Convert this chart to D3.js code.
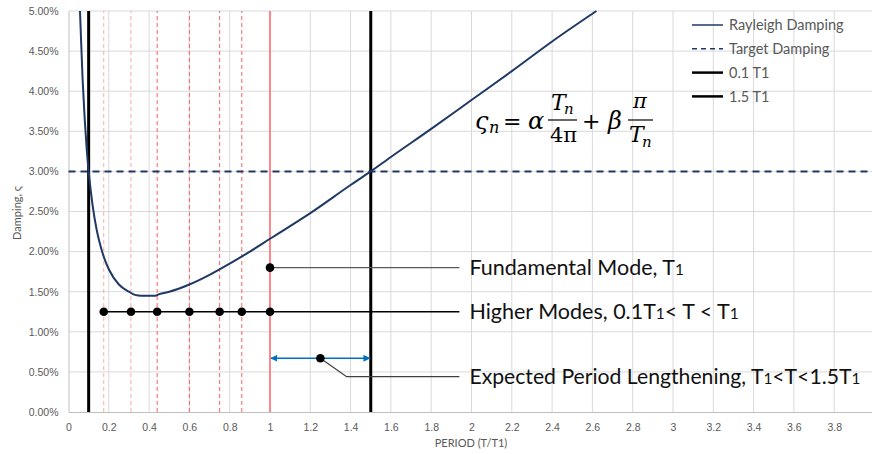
<!DOCTYPE html>
<html>
<head>
<meta charset="utf-8">
<script src="https://cdn.jsdelivr.net/npm/d3@7"></script>
<style>
  body { margin: 0; background: #fff; }
  svg { display: block; font-family: Lato, "Open Sans", sans-serif; }
</style>
</head>
<body>
<div id="chart"></div>
<script>
// Rayleigh damping curve (period T/T1, damping %)
var curvePeriod = [0.057, 0.06, 0.07, 0.08, 0.09, 0.1, 0.12, 0.14, 0.16, 0.18, 0.2, 0.25, 0.3, 0.33, 0.36, 0.4, 0.43, 0.45, 0.5, 0.6, 0.7, 0.8, 0.9, 1.0, 1.2, 1.4, 1.5, 1.6, 1.8, 2.0, 2.2, 2.4, 2.62];
var curveDamping = [5.0, 4.80, 4.15, 3.67, 3.29, 3.0, 2.57, 2.27, 2.06, 1.90, 1.78, 1.59, 1.50, 1.46, 1.45, 1.45, 1.45, 1.47, 1.50, 1.59, 1.71, 1.85, 2.00, 2.16, 2.48, 2.83, 3.0, 3.18, 3.53, 3.89, 4.25, 4.62, 5.0];

var targetDamping = 3.0;
var boundaryPeriods = [0.1, 1.5];           // 0.1 T1 and 1.5 T1
var modePeriods = [0.175, 0.31, 0.44, 0.6, 0.75, 0.86, 1.0];
var modeLineStyle = ["light", "light", "dash", "dash", "dash", "dash", "solid"];
var higherModeDamping = 1.25;
var fundamental = {period: 1.0, damping: 1.8};
var lengthening = {from: 1.0, to: 1.5, damping: 0.67, dot: 1.25};
var leaderBend = {period: 1.38, damping: 0.44};
var labelPeriod = 1.94;

var xTicks = [0, 0.2, 0.4, 0.6, 0.8, 1, 1.2, 1.4, 1.6, 1.8, 2, 2.2, 2.4, 2.6, 2.8, 3, 3.2, 3.4, 3.6, 3.8, 4];
var xTickLabels = ["0", "0.2", "0.4", "0.6", "0.8", "1", "1.2", "1.4", "1.6", "1.8", "2", "2.2", "2.4", "2.6", "2.8", "3", "3.2", "3.4", "3.6", "3.8", ""];
var yTicks = [0, 0.5, 1, 1.5, 2, 2.5, 3, 3.5, 4, 4.5, 5];

var legendLabels = ["Rayleigh Damping", "Target Damping", "0.1 T1", "1.5 T1"];

var W = 872, H = 454;
var navy = "#1f3864";

var svg = d3.select("#chart").append("svg")
  .attr("width", W).attr("height", H);

var x = d3.scaleLinear().domain([0, 4]).range([68.5, 874.5]);
var y = d3.scaleLinear().domain([0, 5]).range([412, 11]);

// grid
svg.append("g").selectAll("line").data(yTicks.slice(1)).enter().append("line")
  .attr("x1", x(0)).attr("x2", W)
  .attr("y1", function(d) { return y(d); }).attr("y2", function(d) { return y(d); })
  .attr("stroke", "#d9d9d9").attr("stroke-width", 1);
svg.append("g").selectAll("line").data(xTicks.slice(1)).enter().append("line")
  .attr("x1", function(d) { return x(d); }).attr("x2", function(d) { return x(d); })
  .attr("y1", y(0)).attr("y2", y(5))
  .attr("stroke", "#d9d9d9").attr("stroke-width", 1);

// axes
var xAxis = svg.append("g")
  .attr("transform", "translate(0," + y(0) + ")")
  .call(d3.axisBottom(x).tickValues(xTicks).tickSize(0).tickPadding(12)
    .tickFormat(function(d, i) { return xTickLabels[i]; }));
xAxis.select(".domain").attr("stroke", "#bfbfbf");
xAxis.selectAll("text").attr("fill", "#595959").style("font-size", "10.5px");

var yAxis = svg.append("g")
  .attr("transform", "translate(" + x(0) + ",0)")
  .call(d3.axisLeft(y).tickValues(yTicks).tickSize(0).tickPadding(10)
    .tickFormat(function(d) { return d.toFixed(2) + "%"; }));
yAxis.select(".domain").attr("stroke", "#bfbfbf");
yAxis.selectAll("text").attr("fill", "#595959").style("font-size", "10.5px");

svg.append("text")
  .attr("transform", "translate(21," + 213 + ") rotate(-90)")
  .attr("text-anchor", "middle")
  .attr("fill", "#595959").style("font-size", "11px")
  .text("Damping, ς");

svg.append("text")
  .attr("x", 471).attr("y", 447)
  .attr("text-anchor", "middle")
  .attr("fill", "#595959").style("font-size", "11px")
  .text("PERIOD (T/T1)");

// mode period lines
svg.append("g").selectAll("line").data(modePeriods).enter().append("line")
  .attr("x1", function(d) { return x(d); }).attr("x2", function(d) { return x(d); })
  .attr("y1", y(0)).attr("y2", y(5))
  .attr("stroke", function(d, i) {
    return modeLineStyle[i] == "light" ? "#ffa8a8" : (modeLineStyle[i] == "solid" ? "#ff7c80" : "#ff6060");
  })
  .attr("stroke-width", function(d, i) { return modeLineStyle[i] == "solid" ? 1.8 : 1; })
  .attr("stroke-dasharray", function(d, i) { return modeLineStyle[i] == "solid" ? null : "4,3"; });

// target damping
svg.append("line")
  .attr("x1", x(0)).attr("x2", W)
  .attr("y1", y(targetDamping)).attr("y2", y(targetDamping))
  .attr("stroke", navy).attr("stroke-width", 2).attr("stroke-dasharray", "7,5");

// boundary lines
svg.append("g").selectAll("line").data(boundaryPeriods).enter().append("line")
  .attr("x1", function(d) { return x(d); }).attr("x2", function(d) { return x(d); })
  .attr("y1", y(0)).attr("y2", y(5))
  .attr("stroke", "#000").attr("stroke-width", 3);

// rayleigh curve
var pts = curvePeriod.map(function(t, i) { return [t, curveDamping[i]]; });
svg.append("path")
  .datum(pts)
  .attr("fill", "none").attr("stroke", navy).attr("stroke-width", 2)
  .attr("d", d3.line().x(function(d) { return x(d[0]); }).y(function(d) { return y(d[1]); }).curve(d3.curveMonotoneX));

// annotation leaders
var labelX = x(labelPeriod);
svg.append("line")
  .attr("x1", x(modePeriods[0])).attr("x2", labelX)
  .attr("y1", y(higherModeDamping)).attr("y2", y(higherModeDamping))
  .attr("stroke", "#000").attr("stroke-width", 1.3);
svg.append("line")
  .attr("x1", x(fundamental.period)).attr("x2", labelX)
  .attr("y1", y(fundamental.damping)).attr("y2", y(fundamental.damping))
  .attr("stroke", "#595959").attr("stroke-width", 1.3);
svg.append("path")
  .attr("d", d3.line()([[x(lengthening.dot), y(lengthening.damping)],
    [x(leaderBend.period), y(leaderBend.damping)], [labelX, y(leaderBend.damping)]]))
  .attr("fill", "none").attr("stroke", "#404040").attr("stroke-width", 1.3);

// blue double arrow
var defs = svg.append("defs");
defs.append("marker").attr("id", "ah").attr("viewBox", "0 0 10 10")
  .attr("refX", 9).attr("refY", 5).attr("markerWidth", 7).attr("markerHeight", 7)
  .attr("markerUnits", "userSpaceOnUse")
  .attr("orient", "auto-start-reverse")
  .append("path").attr("d", "M0,0L10,5L0,10z").attr("fill", "#0070c0");
svg.append("line")
  .attr("x1", x(lengthening.from) + 1).attr("x2", x(lengthening.to) - 1)
  .attr("y1", y(lengthening.damping)).attr("y2", y(lengthening.damping))
  .attr("stroke", "#0070c0").attr("stroke-width", 1.3)
  .attr("marker-start", "url(#ah)").attr("marker-end", "url(#ah)");

// dots
var dots = modePeriods.map(function(t) { return [t, higherModeDamping]; });
dots.push([fundamental.period, fundamental.damping]);
dots.push([lengthening.dot, lengthening.damping]);
svg.append("g").selectAll("circle").data(dots).enter().append("circle")
  .attr("cx", function(d) { return x(d[0]); })
  .attr("cy", function(d) { return y(d[1]); })
  .attr("r", 4.3).attr("fill", "#000");

// annotation labels (T1 drawn with a smaller "1")
function addLabel(yv, parts, size) {
  var t = svg.append("text").attr("x", labelX + 10).attr("y", y(yv)).attr("dy", "0.36em")
    .attr("fill", "#111").style("font-size", size + "px");
  parts.forEach(function(p) {
    var s = t.append("tspan").text(p[0]);
    if (p[1]) s.style("font-size", (size * 0.72) + "px");
  });
}
addLabel(fundamental.damping, [["Fundamental Mode, T"], ["1", 1]], 21.5);
addLabel(higherModeDamping, [["Higher Modes, 0.1T"], ["1", 1], ["< T < T"], ["1", 1]], 21.5);
addLabel(leaderBend.damping, [["Expected Period Lengthening, T"], ["1", 1], ["<T<1.5T"], ["1", 1]], 21.2);

// legend
var legend = svg.append("g").attr("transform", "translate(692,25)");
var lg = legend.selectAll("g").data(legendLabels).enter().append("g")
  .attr("transform", function(d, i) { return "translate(0," + (i * 23.8) + ")"; });
lg.append("line").attr("x1", 0).attr("x2", 31).attr("y1", 0).attr("y2", 0)
  .attr("stroke", function(d, i) { return i < 2 ? navy : "#000"; })
  .attr("stroke-width", function(d, i) { return i < 2 ? 1.5 : 2.5; })
  .attr("stroke-dasharray", function(d, i) { return i == 1 ? "5,4" : null; });
lg.append("text").attr("x", 37).attr("dy", "0.36em")
  .attr("fill", "#595959").style("font-size", "14.5px")
  .text(function(d) { return d; });

// equation
var eq = svg.append("g").attr("font-family", "'DejaVu Serif', 'Liberation Serif', serif")
  .attr("font-style", "italic").attr("fill", "#000");
function et(xp, yp, s, size, style) {
  return eq.append("text").attr("x", xp).attr("y", yp).text(s)
    .style("font-size", size + "px").attr("font-style", style || "italic");
}
et(475, 129, "ς", 24);
et(489, 133, "n", 16);
et(503, 129, "=", 22, "normal");
et(528, 129, "α", 24);
et(551, 110, "T", 22);
et(564, 114, "n", 15);
eq.append("line").attr("x1", 548).attr("x2", 577).attr("y1", 120).attr("y2", 120).attr("stroke", "#000").attr("stroke-width", 1.2);
et(550, 142, "4π", 21, "normal");
et(582, 129, "+", 22, "normal");
et(608, 129, "β", 24);
et(633, 108, "π", 21);
eq.append("line").attr("x1", 628).attr("x2", 653).attr("y1", 120).attr("y2", 120).attr("stroke", "#000").attr("stroke-width", 1.2);
et(629, 142, "T", 22);
et(642, 147, "n", 15);
</script>
</body>
</html>
